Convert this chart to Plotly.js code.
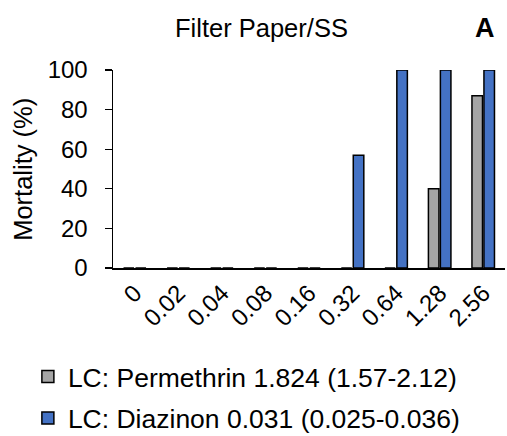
<!DOCTYPE html>
<html>
<head>
<meta charset="utf-8">
<script src="https://cdn.plot.ly/plotly-3.0.1.min.js"></script>
<style>html,body{margin:0;padding:0;background:#fff;}#chart{width:507px;height:436px;}</style>
</head>
<body>
<div id="chart"></div>
<script>
const categories = ["0", "0.02", "0.04", "0.08", "0.16", "0.32", "0.64", "1.28", "2.56"];
const permethrin = [0, 0, 0, 0, 0, 0, 0, 40, 87];
const diazinon = [0, 0, 0, 0, 0, 57, 100, 100, 100];
const seriesNames = ["LC: Permethrin 1.824 (1.57-2.12)", "LC: Diazinon 0.031 (0.025-0.036)"];
const yTicks = [0, 20, 40, 60, 80, 100];

const FONT = "Arial, 'Liberation Sans', sans-serif";

const traces = [
  {type: "bar", x: categories, y: permethrin, name: seriesNames[0], legendgroup: "a",
   marker: {color: "#a5a5a5", line: {color: "#000", width: 1.5}}},
  {type: "bar", x: categories, y: diazinon, name: seriesNames[1], legendgroup: "b",
   marker: {color: "#4472c4", line: {color: "#000", width: 1.5}}}
];

const layout = {
  width: 507, height: 436,
  margin: {l: 113, r: 2, t: 70, b: 168, autoexpand: false},
  paper_bgcolor: "#fff", plot_bgcolor: "#fff",
  font: {family: FONT, size: 24, color: "#000"},
  barmode: "group", bargap: 0.45, bargroupgap: 0.12,
  showlegend: true,
  legend: {x: 0.055, xref: "container", xanchor: "left", y: 0.191, yref: "container", yanchor: "top",
           orientation: "v", traceorder: "grouped", tracegroupgap: 4,
           font: {family: FONT, size: 26.5, color: "#000"}, bgcolor: "rgba(0,0,0,0)", itemwidth: 30},
  xaxis: {type: "category", tickangle: -45, showline: true, linecolor: "#000", linewidth: 1.5,
          ticks: "", showgrid: false, zeroline: false, range: [-0.5, 8.5], automargin: false,
          tickfont: {family: FONT, size: 24, color: "#000"}},
  yaxis: {range: [0, 100], tickvals: yTicks, showline: true, linecolor: "#000", linewidth: 1.5,
          ticks: "outside", ticklen: 7, tickwidth: 1.2, tickcolor: "#000", showgrid: false, zeroline: false,
          ticklabelstandoff: 12, automargin: false,
          tickfont: {family: FONT, size: 24, color: "#000"}},
  annotations: [
    {text: "Mortality (%)", xref: "paper", yref: "paper", x: -0.23, y: 0.5, xanchor: "center", yanchor: "middle",
     textangle: -90, showarrow: false, font: {family: FONT, size: 25.5, color: "#000"}},
    {text: "Filter Paper/SS", xref: "paper", yref: "paper", x: 0.378, y: 1.212, xanchor: "center", yanchor: "middle",
     showarrow: false, font: {family: FONT, size: 25.5, color: "#000"}},
    {text: "<b>A</b>", xref: "paper", yref: "paper", x: 0.949, y: 1.212, xanchor: "center", yanchor: "middle",
     showarrow: false, font: {family: FONT, size: 27, color: "#000"}}
  ]
};

Plotly.newPlot("chart", traces, layout, {displayModeBar: false, staticPlot: true});
</script>
</body>
</html>
